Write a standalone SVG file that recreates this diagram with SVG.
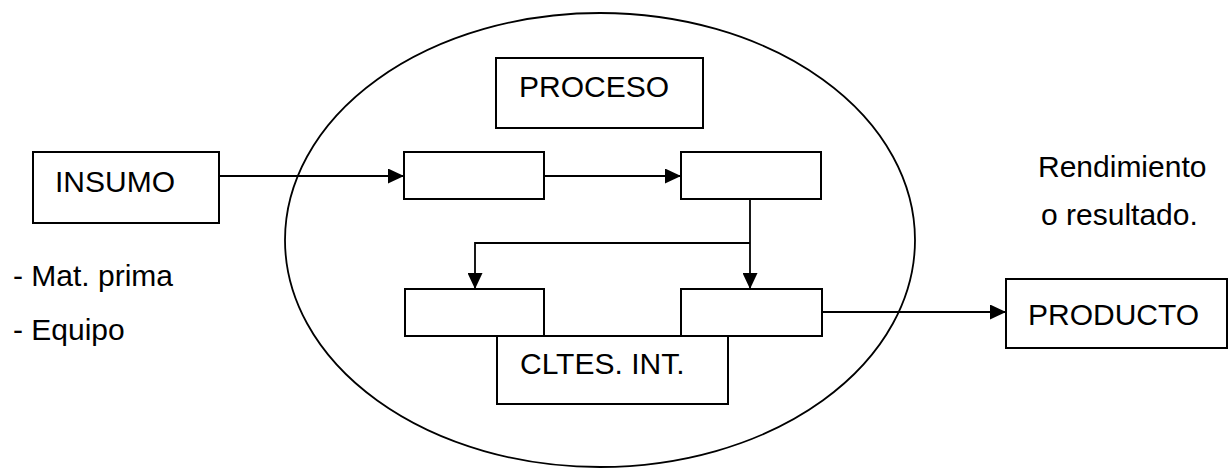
<svg xmlns="http://www.w3.org/2000/svg" width="1228" height="469" viewBox="0 0 1228 469">
  <style>
    .box { fill: #ffffff; stroke: #000000; stroke-width: 2; }
    .lbl { font-family: "Liberation Sans", Arial, sans-serif; font-size: 30px; fill: #000000; }
    .wire { fill: none; stroke: #000000; stroke-width: 1.8; }
    .boundary { fill: none; stroke: #000000; stroke-width: 1.8; }
  </style>
  <defs>
    <marker id="arrow" markerUnits="userSpaceOnUse" markerWidth="16" markerHeight="15" refX="16" refY="7.5" orient="auto">
      <path d="M0,0 L16,7.5 L0,15 z" fill="#000000"/>
    </marker>
  </defs>

  <!-- process boundary -->
  <g id="proceso-ellipse">
    <ellipse class="boundary" cx="600" cy="240" rx="315" ry="227"/>
  </g>

  <!-- connectors -->
  <g id="connectors">
    <line class="wire" x1="219" y1="176" x2="404" y2="176" marker-end="url(#arrow)"/>
    <line class="wire" x1="544" y1="176" x2="681" y2="176" marker-end="url(#arrow)"/>
    <line class="wire" x1="750" y1="199" x2="750" y2="289" marker-end="url(#arrow)"/>
    <polyline class="wire" points="750,243 475,243 475,289" marker-end="url(#arrow)"/>
    <line class="wire" x1="822" y1="312" x2="1006" y2="312" marker-end="url(#arrow)"/>
  </g>

  <g id="insumo">
    <rect class="box" x="33" y="152" width="186" height="71"/>
    <text class="lbl" x="55" y="192">INSUMO</text>
  </g>

  <g id="insumo-notes">
    <text class="lbl" x="13" y="286">- Mat. prima</text>
    <text class="lbl" x="13" y="340">- Equipo</text>
  </g>

  <g id="proceso">
    <rect class="box" x="496" y="58" width="207" height="70"/>
    <text class="lbl" x="519" y="97">PROCESO</text>
  </g>

  <g id="step-1">
    <rect class="box" x="404" y="152" width="140" height="47"/>
  </g>

  <g id="step-2">
    <rect class="box" x="681" y="152" width="140" height="47"/>
  </g>

  <g id="clientes-internos">
    <rect class="box" x="497" y="336" width="231" height="68"/>
    <text class="lbl" x="520" y="374">CLTES. INT.</text>
  </g>

  <g id="step-3">
    <rect class="box" x="405" y="289" width="139" height="47"/>
  </g>

  <g id="step-4">
    <rect class="box" x="681" y="289" width="141" height="47"/>
  </g>

  <g id="rendimiento">
    <text class="lbl" x="1038" y="177">Rendimiento</text>
    <text class="lbl" x="1041" y="225">o resultado.</text>
  </g>

  <g id="producto">
    <rect class="box" x="1006" y="279" width="221" height="69"/>
    <text class="lbl" x="1028" y="325">PRODUCTO</text>
  </g>
</svg>
